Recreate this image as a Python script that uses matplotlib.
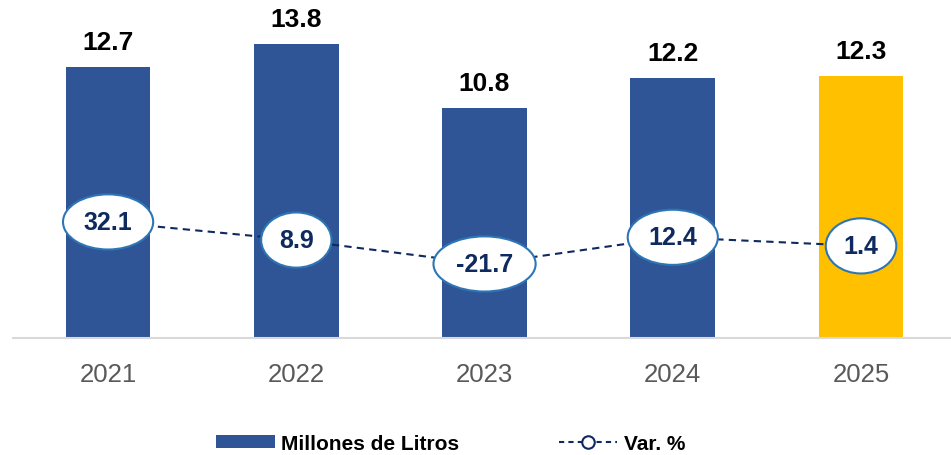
import matplotlib.pyplot as plt
from matplotlib.patches import Patch
from matplotlib.lines import Line2D

years = ["2021", "2022", "2023", "2024", "2025"]
litros = [12.7, 13.8, 10.8, 12.2, 12.3]
var_pct = [32.1, 8.9, -21.7, 12.4, 1.4]

bar_blue = "#2F5597"
bar_gold = "#FFC000"
navy = "#0E2A5E"
ring = "#2E75B6"

plt.rcParams['font.family'] = ['Liberation Sans', 'DejaVu Sans']

fig = plt.figure(figsize=(9.51, 4.56), dpi=100)
ax = fig.add_axes([0.0137, 0.2566, 0.9863, 0.7434])

x = list(range(len(years)))
colors = [bar_blue] * (len(years) - 1) + [bar_gold]
ax.bar(x, litros, width=0.45, color=colors, zorder=2)
for xi, v in zip(x, litros):
    ax.text(xi, v + 0.6, f"{v:.1f}", ha="center", va="bottom",
            fontsize=19, fontweight="bold", color="black")

ax.set_xlim(-0.505, 4.478)
ax.set_ylim(0, 15.9)
ax.set_xticks(x)
ax.set_xticklabels(years, fontsize=18.5, color="#595959")
ax.tick_params(axis="x", length=0, pad=17)
ax.set_yticks([])
for side in ["top", "right", "left"]:
    ax.spines[side].set_visible(False)
ax.spines["bottom"].set_color("#D9D9D9")
ax.spines["bottom"].set_linewidth(1.5)

ax2 = ax.twinx()
ax2.set_ylim(-116.5, 317.5)
ax2.plot(x, var_pct, color=navy, lw=1.5, ls=(0, (3.5, 2.5)), zorder=3)
for xi, v in zip(x, var_pct):
    ax2.text(xi, v, f"{v:.1f}", ha="center", va="center",
             fontsize=18, fontweight="bold", color=navy, zorder=5,
             bbox=dict(boxstyle="ellipse,pad=0.3", fc="white", ec=ring, lw=1.5))
ax2.set_yticks([])
for side in ["top", "right", "left", "bottom"]:
    ax2.spines[side].set_visible(False)

handles = [
    Patch(facecolor=bar_blue, edgecolor="none"),
    Line2D([0], [0], color=navy, lw=1.5, ls=(0, (2.5, 2)), marker="o",
           markersize=9, markerfacecolor="white", markeredgecolor=navy,
           markeredgewidth=1.5),
]
fig.legend(handles, ["Millones de Litros", "Var. %"], loc="center",
           bbox_to_anchor=(0.474, 0.026), ncol=2, frameon=False,
           prop={"size": 15, "weight": "bold"}, handlelength=2.8,
           handleheight=0.6, handletextpad=0.3, columnspacing=4.8)

fig.savefig("out.png", dpi=100)
